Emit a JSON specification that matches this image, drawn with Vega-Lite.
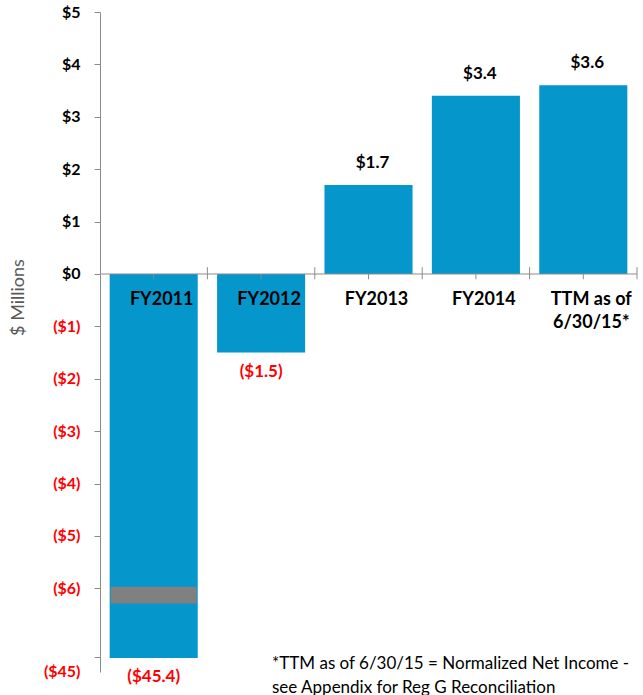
{
  "$schema": "https://vega.github.io/schema/vega-lite/v6.json",
  "autosize": "none",
  "width": 537,
  "height": 660,
  "padding": {"left": 100, "top": 12, "right": 6, "bottom": 23},
  "config": {"font": "Lato", "view": {"stroke": null}},
  "title": {
    "text": ["*TTM as of 6/30/15 = Normalized Net Income -", "see Appendix for Reg G Reconciliation"],
    "orient": "bottom",
    "anchor": "start",
    "frame": "group",
    "align": "left",
    "baseline": "top",
    "dx": 172,
    "offset": -29,
    "fontSize": 17,
    "fontWeight": "normal",
    "color": "#000000",
    "lineHeight": 24
  },
  "datasets": {
    "bars": [
      {"cat": "FY2011", "name": "FY2011", "value": -45.4, "label": "($45.4)"},
      {"cat": "FY2012", "name": "FY2012", "value": -1.5, "label": "($1.5)"},
      {"cat": "FY2013", "name": "FY2013", "value": 1.7, "label": "$1.7"},
      {"cat": "FY2014", "name": "FY2014", "value": 3.4, "label": "$3.4"},
      {"cat": "TTM", "name": "TTM as of\n6/30/15*", "value": 3.6, "label": "$3.6"}
    ],
    "breakband": [{"cat": "FY2011", "top": -5.97, "bottom": -6.29}]
  },
  "layer": [
    {
      "data": {"name": "bars"},
      "mark": {"type": "bar", "color": "#0596CC", "width": {"band": 0.82}},
      "encoding": {
        "x": {"field": "cat", "type": "nominal", "sort": null, "scale": {"paddingInner": 0, "paddingOuter": 0}, "axis": null},
        "y": {
          "field": "value",
          "type": "quantitative",
          "scale": {"domain": [-45.6, -45.4, -6.3, 5], "range": [660, 646, 592.1, 0], "nice": false, "zero": false},
          "axis": {
            "values": [5, 4, 3, 2, 1, 0, -1, -2, -3, -4, -5, -6, -45],
            "title": "$ Millions",
            "labelExpr": "datum.value >= 0 ? '$' + datum.value : '($' + abs(datum.value) + ')'",
            "labelColor": {"condition": {"test": "datum.value < 0", "value": "#FF0000"}, "value": "#000000"},
            "labelOffset": {"condition": {"test": "datum.value < -40", "value": 14.5}, "value": 0},
            "labelFontWeight": "bold",
            "labelFontSize": 16,
            "labelPadding": 14,
            "tickSize": 6,
            "tickColor": "#8C8C8C",
            "domainColor": "#8C8C8C",
            "grid": false,
            "titleX": -82,
            "titleY": 285,
            "titleAngle": -90,
            "titleAlign": "center",
            "titleBaseline": "middle",
            "titleFontSize": 18,
            "titleFontWeight": "normal",
            "titleColor": "#595959"
          }
        },
        "y2": {"datum": 0}
      }
    },
    {
      "data": {"name": "breakband"},
      "mark": {"type": "bar", "color": "#808080", "width": {"band": 0.8}},
      "encoding": {
        "x": {"field": "cat", "type": "nominal", "sort": null},
        "y": {"field": "top", "type": "quantitative"},
        "y2": {"field": "bottom"}
      }
    },
    {
      "data": {"values": [{}]},
      "mark": {"type": "rule", "color": "#8C8C8C", "strokeWidth": 1},
      "encoding": {"y": {"datum": 0}}
    },
    {
      "data": {"name": "bars"},
      "mark": {"type": "rule", "color": "#8C8C8C", "strokeWidth": 1},
      "encoding": {
        "x": {"field": "cat", "type": "nominal", "sort": null, "bandPosition": 1},
        "y": {"datum": 0.13},
        "y2": {"datum": -0.1}
      }
    },
    {
      "data": {"name": "bars"},
      "mark": {"type": "rule", "color": "#8C8C8C", "strokeWidth": 1},
      "encoding": {
        "x": {"field": "cat", "type": "nominal", "sort": null},
        "y": {"datum": 0},
        "y2": {"datum": -0.1}
      }
    },
    {
      "data": {"name": "bars"},
      "mark": {"type": "text", "fontWeight": "bold", "fontSize": 18, "baseline": "top", "dy": 17, "dx": 8, "lineBreak": "\n", "lineHeight": 23, "color": "#000000"},
      "encoding": {
        "x": {"field": "cat", "type": "nominal", "sort": null},
        "y": {"datum": 0},
        "text": {"field": "name"}
      }
    },
    {
      "data": {"name": "bars"},
      "transform": [{"filter": "datum.value > 0"}],
      "mark": {"type": "text", "fontWeight": "bold", "fontSize": 17, "baseline": "middle", "dy": -22, "dx": 4, "color": "#000000"},
      "encoding": {
        "x": {"field": "cat", "type": "nominal", "sort": null},
        "y": {"field": "value", "type": "quantitative"},
        "text": {"field": "label"}
      }
    },
    {
      "data": {"name": "bars"},
      "transform": [{"filter": "datum.value < 0"}],
      "mark": {"type": "text", "fontWeight": "bold", "fontSize": 17, "baseline": "middle", "dy": 19, "dx": 0, "color": "#FF0000"},
      "encoding": {
        "x": {"field": "cat", "type": "nominal", "sort": null},
        "y": {"field": "value", "type": "quantitative"},
        "text": {"field": "label"}
      }
    }
  ]
}
